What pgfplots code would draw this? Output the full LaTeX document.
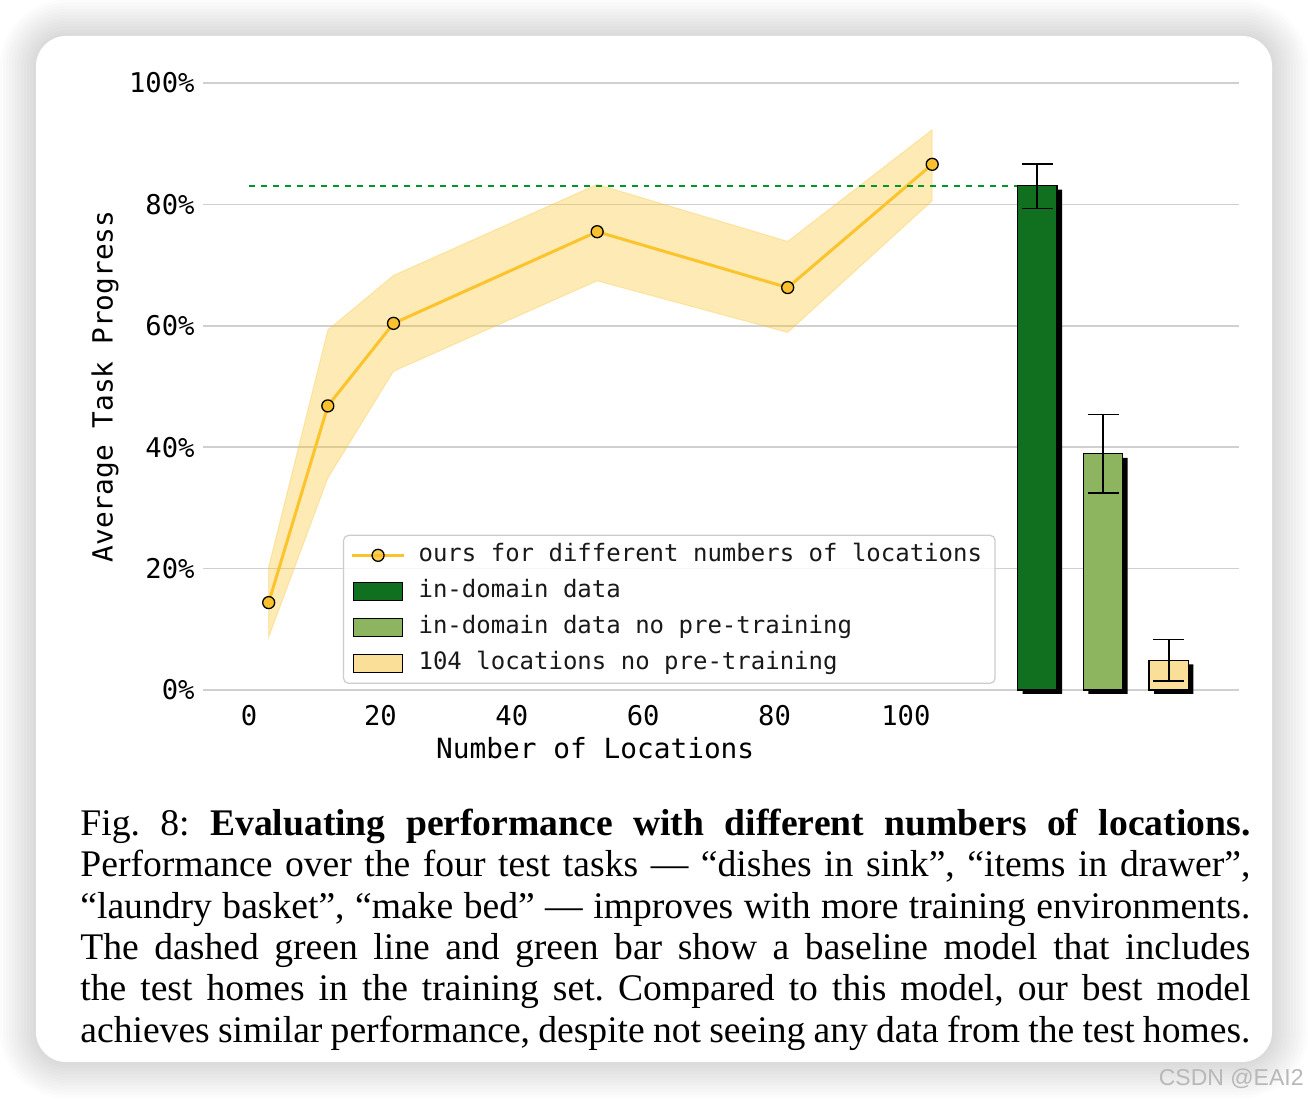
\documentclass[border=0pt]{standalone}
\usepackage{fontspec}
\setmainfont{Liberation Serif}
\newfontfamily\monofont{DejaVu Sans Mono}
\newfontfamily\wmfont{Liberation Sans}
\usepackage{pgfplots}
\pgfplotsset{compat=1.18}

\definecolor{lineyellow}{RGB}{252,196,44}
\definecolor{markyellow}{RGB}{251,192,45}
\definecolor{darkgreenbar}{RGB}{16,112,32}
\definecolor{lightgreenbar}{RGB}{141,180,94}
\definecolor{paleyellowbar}{RGB}{250,223,152}
\definecolor{dashgreen}{RGB}{0,150,40}
\definecolor{gridgray}{RGB}{208,208,208}
\definecolor{legendgray}{RGB}{204,204,204}

\begin{document}
\begin{tikzpicture}
\useasboundingbox (0bp,0bp) rectangle (654bp,550bp);
\fill[white] (0bp,0bp) rectangle (654bp,550bp);
\begin{scope}[x=1bp,y=1bp]
\foreach \i in {12,11,...,1} {
  \pgfmathsetmacro\rr{15+1.5*\i}
  \fill[black, opacity=0.011, rounded corners=\rr bp] (18-1.5*\i, 19-1.5*\i) rectangle (636+1.5*\i, 532+1.5*\i);
}
\fill[white, rounded corners=15bp] (18,19) rectangle (636,532);
\end{scope}

\begin{axis}[
  at={(101.5bp,205bp)}, anchor=south west,
  scale only axis, width=518bp, height=303.5bp,
  xmin=-7, xmax=150.7, ymin=0, ymax=100,
  clip=false,
  axis line style={draw=none},
  tick style={draw=none},
  ymajorgrids,
  major grid style={gridgray, line width=0.75bp},
  xtick={0,20,40,60,80,100},
  ytick={0,20,40,60,80,100},
  yticklabel={\pgfmathprintnumber{\tick}\%},
  /pgf/number format/assume math mode=true,
  ticklabel style={font=\monofont\fontsize{13.6bp}{16bp}\selectfont, text=black},
  yticklabel style={anchor=east, inner sep=0pt, xshift=-4bp},
  xticklabel style={anchor=north, inner sep=0pt, yshift=-7.6bp},
  xlabel={Number of Locations},
  ylabel={Average Task Progress},
  label style={font=\monofont\fontsize{13.9bp}{16bp}\selectfont, text=black},
  xlabel style={at={(axis description cs:0.3786,0)}, anchor=base, yshift=-34.2bp},
  ylabel style={at={(axis description cs:-0.0946,0.5)}, anchor=center},
  legend cell align=left,
  legend style={
    at={(0.1351,0.01)}, anchor=south west,
    draw=legendgray, line width=0.6bp, rounded corners=2.5bp,
    fill=white, fill opacity=0.8, text opacity=1,
    font=\monofont\fontsize{12bp}{14bp}\selectfont,
    inner xsep=3.5bp, inner ysep=4.5bp,
    row sep=7bp, column sep=6.5bp,
    nodes={inner sep=0pt, text height=8.5bp, text depth=2.5bp},
    text=black!90,
  },
]

% uncertainty band
\addplot[fill=lineyellow, fill opacity=0.35, draw=lineyellow, draw opacity=0.3, line width=0.5bp, forget plot]
  coordinates {
  (3,20.3) (12,59.3) (22,68.3) (53,83.3) (82,73.9) (104,92.3)
  (104,80.6) (82,58.9) (53,67.4) (22,52.5) (12,34.9) (3,8.7)
  } -- cycle;

% main line
\addplot[lineyellow, line width=1.5bp, mark=*, mark size=3bp,
  mark options={fill=markyellow, draw=black, line width=0.65bp},
  legend image code/.code={\draw[mark repeat=2, mark phase=2] plot coordinates {(0bp,0bp) (13bp,0bp) (26bp,0bp)};}]
  coordinates {(3,14.4) (12,46.8) (22,60.4) (53,75.5) (82,66.3) (104,86.6)};
\addlegendentry{ours for different numbers of locations\hspace*{3bp}}

% dashed baseline
\addplot[draw=dashgreen, line width=1.0bp, dashed, mark=none, forget plot]
  coordinates {(0,83.1) (120,83.1)};

% bar shadows
\addplot[ybar, bar width=6, bar shift=2.5bp, fill=black, draw=none, forget plot, yshift=-2bp]
  coordinates {(120,83.1) (130,38.9) (140,4.9)};

% bars
\addplot[ybar, bar width=6, bar shift=0pt, fill=darkgreenbar, draw=black, line width=0.6bp,
  legend image code/.code={\draw[fill=darkgreenbar, fill opacity=1, draw=black, line width=0.6bp, sharp corners] (0.75bp,-4.5bp) rectangle (25.25bp,4.5bp);},
  error bars/.cd, y dir=both, y explicit,
  error bar style={black, line width=0.85bp},
  error mark options={rotate=90, black, line width=0.85bp, mark size=7.75bp}]
  coordinates {(120,83.1) += (0,3.6) -= (0,3.8)};
\addlegendentry{in-domain data}

\addplot[ybar, bar width=6, bar shift=0pt, fill=lightgreenbar, draw=black, line width=0.6bp,
  legend image code/.code={\draw[fill=lightgreenbar, fill opacity=1, draw=black, line width=0.6bp, sharp corners] (0.75bp,-4.5bp) rectangle (25.25bp,4.5bp);},
  error bars/.cd, y dir=both, y explicit,
  error bar style={black, line width=0.85bp},
  error mark options={rotate=90, black, line width=0.85bp, mark size=7.75bp}]
  coordinates {(130,38.9) += (0,6.5) -= (0,6.5)};
\addlegendentry{in-domain data no pre-training}

\addplot[ybar, bar width=6, bar shift=0pt, fill=paleyellowbar, draw=black, line width=0.6bp,
  legend image code/.code={\draw[fill=paleyellowbar, fill opacity=1, draw=black, line width=0.6bp, sharp corners] (0.75bp,-4.5bp) rectangle (25.25bp,4.5bp);},
  error bars/.cd, y dir=both, y explicit,
  error bar style={black, line width=0.85bp},
  error mark options={rotate=90, black, line width=0.85bp, mark size=7.75bp}]
  coordinates {(140,4.9) += (0,3.4) -= (0,3.4)};
\addlegendentry{104 locations no pre-training}

\end{axis}

% caption
\begin{scope}[every node/.style={anchor=base west, inner sep=0pt, font=\fontsize{18.8bp}{23bp}\selectfont\frenchspacing}]
\node at (40bp,132.1bp) {\makebox[585bp][s]{Fig. 8: \textbf{Evaluating performance with different numbers of locations.}}};
\node at (40bp,111.5bp) {\makebox[585bp][s]{Performance over the four test tasks — “dishes in sink”, “items in drawer”,}};
\node at (40bp,90.9bp) {\makebox[585bp][s]{“laundry basket”, “make bed” — improves with more training environments.}};
\node at (40bp,70.25bp) {\makebox[585bp][s]{The dashed green line and green bar show a baseline model that includes}};
\node at (40bp,49.6bp) {\makebox[585bp][s]{the test homes in the training set. Compared to this model, our best model}};
\node at (40bp,29.0bp) {\makebox[585bp][s]{achieves similar performance, despite not seeing any data from the test homes.}};
\end{scope}

\node[anchor=base east, inner sep=0pt, font=\wmfont\fontsize{11.5bp}{13bp}\selectfont, text=black!28] at (652bp,7.5bp) {CSDN @EAI2};
\end{tikzpicture}
\end{document}
